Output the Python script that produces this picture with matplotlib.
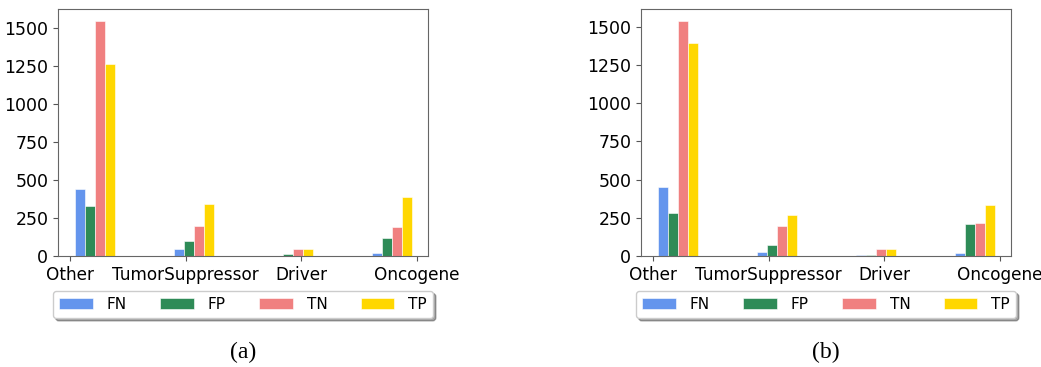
import numpy as np
import matplotlib
matplotlib.use("Agg")
import matplotlib.pyplot as plt

categories = ["Other", "TumorSuppressor", "Driver", "Oncogene"]
series = ["FN", "FP", "TN", "TP"]
colors = ["cornflowerblue", "seagreen", "lightcoral", "gold"]

# counts per category for each outcome
fn_a = [440, 48, 0, 20]
fp_a = [331, 96, 13, 116]
tn_a = [1550, 195, 48, 190]
tp_a = [1268, 342, 48, 388]

fn_b = [450, 26, 6, 20]
fp_b = [278, 72, 6, 211]
tn_b = [1539, 193, 46, 215]
tp_b = [1396, 267, 48, 335]

panels = [("(a)", [fn_a, fp_a, tn_a, tp_a]),
          ("(b)", [fn_b, fp_b, tn_b, tp_b])]

fig = plt.figure(figsize=(10.41, 3.67), dpi=100)

width = 0.0866
step = 0.855
lefts = [58 / 1041, 641 / 1041]

for (caption, data), left in zip(panels, lefts):
    ax = fig.add_axes([left, 0.3025, 0.3554, 0.673])
    x = np.arange(len(categories)) * step
    for k, (vals, name) in enumerate(zip(data, series)):
        ax.bar(x + (k + 1) * width, vals, width, color=colors[k],
               edgecolor="white", linewidth=0.4, label=name)
    ymax = max(max(v) for v in data)
    ax.set_ylim(0, ymax * 1.05)
    ax.set_xlim(-0.104, 3.095)
    ax.set_xticks(range(len(categories)))
    ax.set_xticklabels(categories, fontsize=12.2)
    ax.set_yticks([0, 250, 500, 750, 1000, 1250, 1500])
    ax.tick_params(axis="y", labelsize=12.5)
    ax.tick_params(color="#555555", length=3.5)
    for s in ax.spines.values():
        s.set_color("#666666")
    ax.legend(ncol=4, loc="upper center", bbox_to_anchor=(0.5, -0.11),
              shadow=True, fancybox=True, fontsize=11,
              handlelength=2.2, handletextpad=0.9, columnspacing=2.2,
              handleheight=0.8)
    ax.text(0.5, -0.39, caption, transform=ax.transAxes, ha="center",
            va="center", fontsize=17, family="Liberation Serif")

fig.savefig("out.png", dpi=100)
